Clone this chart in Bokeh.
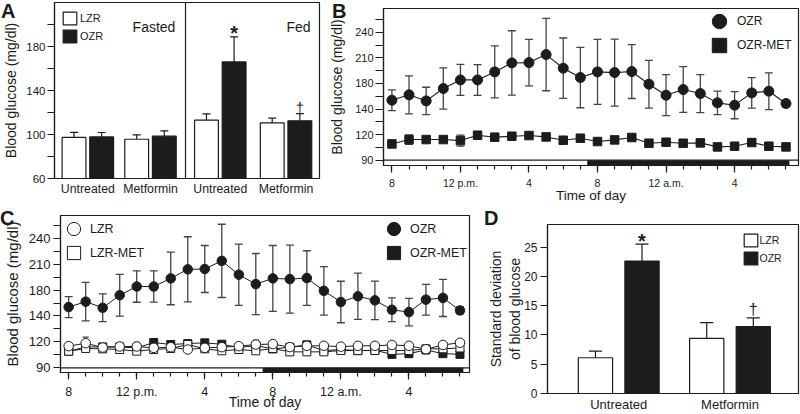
import numpy as np
from bokeh.plotting import figure
from bokeh.models import (Range1d, FixedTicker, ColumnDataSource, Whisker, TeeHead,
                          Span, Label, Legend, LegendItem, Div)
from bokeh.embed import file_html
from bokeh.resources import INLINE

FONT = "Liberation Sans"
INK = "#1c1c1c"
ERR = "#444444"

# ---------------- Panel A data ----------------
a_categories = ["Untreated", "Metformin", "Untreated", "Metformin"]
a_lzr = [97.3, 95.7, 113.0, 110.5]
a_lzr_err = [4.7, 3.9, 5.7, 4.3]
a_ozr = [97.8, 98.5, 166.0, 112.4]
a_ozr_err = [4.0, 4.8, 22.7, 6.6]
a_yticks = [60, 80, 100, 120, 140, 160, 180, 200]
a_ytick_labels = ["60", "", "100", "", "140", "", "180", ""]

# ---------------- Panels B / C data ----------------
hours = [8, 9, 10, 11, 12, 13, 14, 15, 16, 17, 18, 19,
         20, 21, 22, 23, 24, 25, 26, 27, 28, 29, 30, 31]
hour_ticks = [8, 12, 16, 20, 24, 28]
hour_tick_labels = ["8", "12 p.m.", "4", "8", "12 a.m.", "4"]
dark_period = [19.4, 31.2]
bc_yticks = [90, 105, 120, 135, 150, 165, 180, 195, 210, 225, 240, 255]
bc_ytick_labels = ["90", "", "120", "", "140", "", "180", "", "210", "", "240", ""]

ozr = [160.3, 166.6, 159.5, 174.0, 184.1, 184.1, 193.5, 204.0, 204.4, 213.8, 197.8, 186.9,
       193.5, 192.7, 193.9, 179.1, 166.2, 172.8, 168.1, 157.2, 154.5, 168.9, 170.9, 156.4]
ozr_err = [12.1, 22.3, 16.0, 24.2, 18.2, 18.0, 30.5, 37.7, 27.2, 42.4, 35.4, 35.4,
           38.1, 39.3, 31.6, 28.0, 24.0, 26.8, 22.3, 13.7, 15.9, 17.8, 21.5, 4.0]
ozr_met = [109.1, 114.2, 114.2, 114.2, 113.0, 119.3, 117.0, 118.1, 118.9, 117.3, 113.4, 115.8,
           111.9, 113.8, 116.6, 109.9, 111.1, 109.9, 110.3, 105.6, 106.4, 110.7, 106.4, 105.6]
ozr_met_err = [2.0, 5.5, 2.0, 2.0, 6.5, 2.0, 2.0, 2.0, 2.0, 3.5, 2.0, 2.0,
               2.0, 2.0, 2.0, 2.0, 2.0, 2.0, 3.0, 2.0, 2.0, 2.0, 2.0, 2.0]
lzr = [115.1, 118.5, 113.5, 114.7, 114.7, 113.1, 113.9, 111.2, 113.1, 113.9, 115.1, 117.0,
       117.5, 114.0, 115.5, 115.5, 114.5, 115.5, 115.5, 116.5, 115.5, 111.5, 116.5, 119.0]
lzr_err = [3.0, 7.0, 3.0, 2.5, 2.5, 2.5, 2.5, 3.0, 2.5, 3.0, 2.5, 5.0,
           3.0, 2.5, 3.0, 3.0, 2.5, 3.0, 3.0, 3.5, 3.0, 2.0, 3.0, 3.0]
lzr_met = [109.3, 112.4, 112.0, 111.2, 109.3, 111.2, 112.4, 117.0, 112.0, 109.7, 111.2, 109.7,
           112.4, 108.5, 108.5, 108.5, 110.0, 110.0, 110.0, 110.0, 110.0, 112.0, 112.0, 113.0]
lzr_met_err = [2.5, 2.5, 2.5, 2.5, 2.5, 2.5, 2.5, 2.5, 2.5, 2.5, 2.5, 2.5,
               2.5, 2.5, 2.5, 2.5, 2.5, 2.5, 2.5, 2.5, 2.5, 2.5, 2.5, 2.5]

# ---------------- Panel D data ----------------
d_categories = ["Untreated", "Metformin"]
d_lzr = [6.1, 9.4]
d_lzr_err = [1.15, 2.7]
d_ozr = [22.6, 11.4]
d_ozr_err = [2.9, 1.5]
d_yticks = [0, 5, 10, 15, 20, 25]


def make_fig(left, top, w, h, xr, yr, bl, br, bt, bb):
    p = figure(width=w, height=h, x_range=Range1d(*xr), y_range=Range1d(*yr),
               output_backend="svg", toolbar_location=None,
               min_border_left=bl, min_border_right=br, min_border_top=bt, min_border_bottom=bb,
               styles={"position": "absolute", "left": f"{left}px", "top": f"{top}px"})
    p.outline_line_color = INK
    p.outline_line_width = 1.2
    p.outline_line_alpha = 1
    p.xgrid.visible = False
    p.ygrid.visible = False
    p.background_fill_color = "white"
    p.border_fill_alpha = 0
    return p


def style_axes(p, tick_size, label_size):
    for ax in p.axis:
        ax.axis_line_color = INK
        ax.axis_line_width = 1.2
        ax.major_tick_line_color = INK
        ax.minor_tick_line_color = INK
        ax.major_tick_line_width = 1.2
        ax.minor_tick_line_width = 1.2
        ax.major_tick_in = 0
        ax.minor_tick_in = 0
        ax.major_label_text_font = FONT
        ax.major_label_text_font_size = tick_size
        ax.major_label_text_color = INK
        ax.axis_label_text_font = FONT
        ax.axis_label_text_font_size = label_size
        ax.axis_label_text_font_style = "normal"
        ax.axis_label_text_color = INK


def errbars(p, x, y, err, head, color, width, both=True):
    y = np.asarray(y, dtype=float)
    e = np.asarray(err, dtype=float)
    src = ColumnDataSource(dict(x=list(x), lo=list(y - e) if both else list(y), hi=list(y + e)))
    w = Whisker(source=src, base="x", lower="lo", upper="hi", dimension="height",
                line_color=color, line_width=width,
                upper_head=TeeHead(size=head, line_color=color, line_width=width),
                lower_head=TeeHead(size=head, line_color=color, line_width=width) if both else None)
    p.add_layout(w)


def screen_text(p, text, x, y, size, align="left", bold=False):
    p.add_layout(Label(x=x, y=y, x_units="screen", y_units="screen", text=text,
                       text_font=FONT, text_font_size=size,
                       text_font_style="bold" if bold else "normal",
                       text_color=INK, text_align=align, text_baseline="alphabetic"))


def mark(p, text, x, y, size, yoff, bold=False):
    p.add_layout(Label(x=x, y=y, text=text, text_font=FONT, text_font_size=size,
                       text_font_style="bold" if bold else "normal", text_color=INK,
                       text_align="center", text_baseline="alphabetic", y_offset=yoff))


def key(p, label, r, x, y, gw, gh, standoff, fsize):
    p.add_layout(Legend(items=[LegendItem(label=label, renderers=[r])],
                        location=(x, y), orientation="vertical", padding=0, spacing=0,
                        margin=0, glyph_width=gw, glyph_height=gh, label_height=gh,
                        label_width=10, label_standoff=standoff, border_line_color=None,
                        background_fill_alpha=0, label_text_font=FONT,
                        label_text_font_size=fsize, label_text_color=INK))


def panel_letter(text, left, top):
    return Div(text=text, width=22, height=22,
               styles={"position": "absolute", "left": f"{left}px", "top": f"{top}px",
                       "font-family": FONT, "font-size": "20px", "font-weight": "bold",
                       "line-height": "20px", "color": INK, "margin": "0", "padding": "0"})


# =============== Panel A ===============
pA = make_fig(0, 0, 335, 210, (0, 11.125), (60, 220), 52, 16, 2, 32)
style_axes(pA, "11.5px", "14px")
a_centers = np.array([1.4, 4.03, 6.96, 9.72])
a_off = 0.58
ra_l = pA.vbar(x=list(a_centers - a_off), top=a_lzr, bottom=60, width=1.0,
               fill_color="white", line_color=INK, line_width=1.2)
ra_o = pA.vbar(x=list(a_centers + a_off), top=a_ozr, bottom=60, width=1.0,
               fill_color=INK, line_color=INK, line_width=1.2)
errbars(pA, a_centers - a_off, a_lzr, a_lzr_err, 8, INK, 1.2, both=False)
errbars(pA, a_centers + a_off, a_ozr, a_ozr_err, 8, INK, 1.2, both=False)
pA.add_layout(Span(location=5.5, dimension="height", line_color=INK, line_width=1.2))
pA.yaxis.ticker = FixedTicker(ticks=a_yticks)
pA.yaxis.major_label_overrides = dict(zip(a_yticks, a_ytick_labels))
pA.yaxis.major_tick_out = 7
pA.yaxis.major_label_standoff = 2
pA.yaxis.axis_label = "Blood glucose (mg/dl)"
pA.yaxis.axis_label_standoff = 4
pA.xaxis.ticker = FixedTicker(ticks=list(a_centers))
pA.xaxis.major_label_overrides = dict(zip(list(a_centers), a_categories))
pA.xaxis.major_tick_out = 0
pA.xaxis.major_label_standoff = 3
pA.xaxis.major_label_text_font_size = "12.3px"
pA.xaxis.axis_label = None
pA.xaxis.axis_label_standoff = 0
screen_text(pA, "Fasted", 99.5, 152, "14px", align="center")
screen_text(pA, "Fed", 256, 152, "14px", align="right")
mark(pA, "*", a_centers[2] + a_off, a_ozr[2] + a_ozr_err[2], "20px", 4, bold=True)
mark(pA, "\u2020", a_centers[3] + a_off, a_ozr[3] + a_ozr_err[3], "14px", 6)
key(pA, "LZR", ra_l, 7, 152, 17, 16, 2, "11px")
key(pA, "OZR", ra_o, 7, 134, 17, 16, 2, "11px")

# =============== Panel B ===============
pB = make_fig(325, 0, 475, 212, (7.51, 31.73), (83.8, 267.8), 58, 2, 8, 47)
style_axes(pB, "11px", "14px")
pB.quad(left=[dark_period[0]], right=[dark_period[1]], bottom=[83.8], top=[90],
        fill_color=INK, line_color=None)
pB.add_layout(Span(location=90, dimension="width", line_color=INK, line_width=1.3))
errbars(pB, hours, ozr, ozr_err, 8, ERR, 1.3)
errbars(pB, hours, ozr_met, ozr_met_err, 8, ERR, 1.3)
pB.line(hours, ozr, line_color=INK, line_width=1.1)
pB.line(hours, ozr_met, line_color=INK, line_width=1.1)
rb_o = pB.scatter(hours, ozr, marker="circle", size=10, fill_color=INK, line_color=INK)
rb_m = pB.scatter(hours, ozr_met, marker="square", size=8.5, fill_color=INK, line_color=INK)
pB.xaxis.ticker = FixedTicker(ticks=hour_ticks, minor_ticks=hours)
pB.xaxis.major_label_overrides = dict(zip(hour_ticks, hour_tick_labels))
pB.xaxis.major_tick_out = 7
pB.xaxis.minor_tick_out = 4
pB.xaxis.major_label_standoff = 4
pB.xaxis.major_label_text_font_size = "10.5px"
pB.xaxis.axis_label = "Time of day"
pB.xaxis.axis_label_standoff = -4
pB.xaxis.axis_label_text_font_size = "13.5px"
pB.yaxis.ticker = FixedTicker(ticks=bc_yticks)
pB.yaxis.major_label_overrides = dict(zip(bc_yticks, bc_ytick_labels))
pB.yaxis.major_tick_out = 8
pB.yaxis.major_label_standoff = 2
pB.yaxis.axis_label = "Blood glucose (mg/dl)"
pB.yaxis.axis_label_standoff = 7
key(pB, "OZR", rb_o, 318, 126, 36, 36, -7, "12px")
key(pB, "OZR-MET", rb_m, 318, 102, 36, 36, -7, "12px")

# =============== Panel C ===============
pC = make_fig(0, 205, 480, 209, (7.52, 31.56), (84.6, 266.3), 55, 11, 10, 42)
style_axes(pC, "13px", "15px")
pC.quad(left=[dark_period[0]], right=[dark_period[1]], bottom=[84.6], top=[90],
        fill_color=INK, line_color=None)
pC.add_layout(Span(location=90, dimension="width", line_color=INK, line_width=1.3))
errbars(pC, hours, ozr, ozr_err, 8, ERR, 1.3)
errbars(pC, hours, ozr_met, ozr_met_err, 6, ERR, 1.2)
errbars(pC, hours, lzr, lzr_err, 6, ERR, 1.2)
errbars(pC, hours, lzr_met, lzr_met_err, 6, ERR, 1.2)
for series in (ozr, ozr_met, lzr_met, lzr):
    pC.line(hours, series, line_color=INK, line_width=1.0)
rc_o = pC.scatter(hours, ozr, marker="circle", size=9.5, fill_color=INK, line_color=INK)
rc_om = pC.scatter(hours, ozr_met, marker="square", size=8, fill_color=INK, line_color=INK)
rc_lm = pC.scatter(hours, lzr_met, marker="square", size=8, fill_color="white", line_color=INK)
rc_l = pC.scatter(hours, lzr, marker="circle", size=9.5, fill_color="white", line_color=INK)
pC.xaxis.ticker = FixedTicker(ticks=hour_ticks, minor_ticks=hours)
pC.xaxis.major_label_overrides = dict(zip(hour_ticks, hour_tick_labels))
pC.xaxis.major_tick_out = 7
pC.xaxis.minor_tick_out = 4
pC.xaxis.major_label_standoff = 5
pC.xaxis.major_label_text_font_size = "12.5px"
pC.xaxis.axis_label = "Time of day"
pC.xaxis.axis_label_standoff = -8
pC.xaxis.axis_label_text_font_size = "14px"
pC.yaxis.ticker = FixedTicker(ticks=bc_yticks)
pC.yaxis.major_label_overrides = dict(zip(bc_yticks, bc_ytick_labels))
pC.yaxis.major_tick_out = 7
pC.yaxis.major_label_standoff = 3
pC.yaxis.axis_label = "Blood glucose (mg/dl)"
pC.yaxis.axis_label_standoff = 5
key(pC, "LZR", rc_l, -3, 127, 33, 33, -7, "12.5px")
key(pC, "LZR-MET", rc_lm, -3, 103, 33, 33, -7, "12.5px")
key(pC, "OZR", rc_o, 317, 127, 33, 33, -5, "12.5px")
key(pC, "OZR-MET", rc_om, 317, 103, 33, 33, -5, "12.5px")

# =============== Panel D ===============
pD = make_fig(470, 205, 330, 209, (0, 7.33), (0, 28.85), 77, 2, 19, 19)
style_axes(pD, "12px", "14px")
d_centers = np.array([2.08, 5.33])
d_off = 0.68
rd_l = pD.vbar(x=list(d_centers - d_off), top=d_lzr, bottom=0, width=1.0,
               fill_color="white", line_color=INK, line_width=1.2)
rd_o = pD.vbar(x=list(d_centers + d_off), top=d_ozr, bottom=0, width=1.0,
               fill_color=INK, line_color=INK, line_width=1.2)
errbars(pD, d_centers - d_off, d_lzr, d_lzr_err, 13, INK, 1.2, both=False)
errbars(pD, d_centers + d_off, d_ozr, d_ozr_err, 13, INK, 1.2, both=False)
pD.yaxis.ticker = FixedTicker(ticks=d_yticks)
pD.yaxis.major_tick_out = 7
pD.yaxis.major_label_standoff = 3
pD.yaxis.axis_label = "Standard deviation\nof blood glucose"
pD.yaxis.axis_label_standoff = -2
pD.xaxis.ticker = FixedTicker(ticks=list(d_centers))
pD.xaxis.major_label_overrides = dict(zip(list(d_centers), d_categories))
pD.xaxis.major_tick_out = 0
pD.xaxis.major_label_standoff = 3
pD.xaxis.major_label_text_font_size = "13px"
pD.xaxis.axis_label = None
pD.xaxis.axis_label_standoff = 0
mark(pD, "*", d_centers[0] + d_off, d_ozr[0] + d_ozr_err[0], "20px", 3, bold=True)
mark(pD, "\u2020", d_centers[1] + d_off, d_ozr[1] + d_ozr_err[1], "16px", 8)
key(pD, "LZR", rd_l, 194.5, 145, 17, 16, 1, "10.5px")
key(pD, "OZR", rd_o, 194.5, 127, 17, 16, 1, "10.5px")

letters = [panel_letter("A", 1, 1), panel_letter("B", 332, 1),
           panel_letter("C", 0, 208), panel_letter("D", 484, 208)]

open("out.html", "w").write(file_html([pA, pB, pC, pD] + letters, INLINE))
